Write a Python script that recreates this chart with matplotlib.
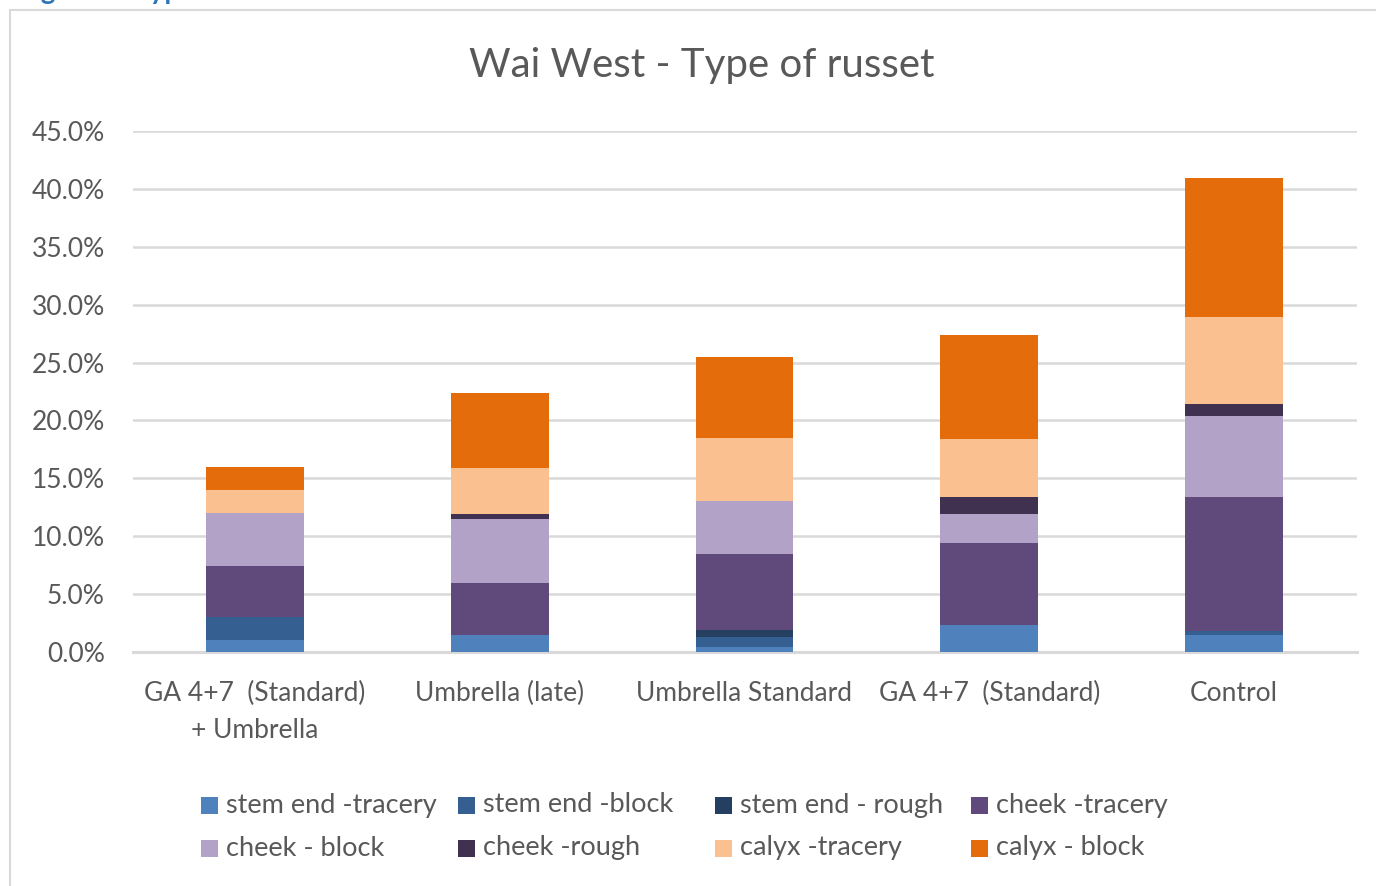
import numpy as np
import matplotlib.pyplot as plt
from matplotlib.patches import Rectangle

plt.rcParams['font.family'] = ['Lato', 'DejaVu Sans']

categories = ["GA 4+7  (Standard)\n+ Umbrella", "Umbrella (late)", "Umbrella Standard",
              "GA 4+7  (Standard)", "Control"]
series = ["stem end -tracery", "stem end -block", "stem end - rough", "cheek -tracery",
          "cheek - block", "cheek -rough", "calyx -tracery", "calyx - block"]

# values in percent, one list per series (bottom to top)
stem_tracery = [1.0, 1.5, 0.4, 2.3, 1.5]
stem_block = [2.0, 0.0, 0.9, 0.0, 0.3]
stem_rough = [0.0, 0.0, 0.6, 0.0, 0.0]
cheek_tracery = [4.4, 4.5, 6.6, 7.1, 11.6]
cheek_block = [4.6, 5.5, 4.5, 2.5, 7.0]
cheek_rough = [0.0, 0.4, 0.0, 1.5, 1.0]
calyx_tracery = [2.0, 4.0, 5.5, 5.0, 7.5]
calyx_block = [2.0, 6.5, 7.0, 9.0, 12.0]

colors = ["#4F81BD", "#355F91", "#243F60", "#604A7B",
          "#B3A2C7", "#403151", "#FAC090", "#E46C0A"]

data = [stem_tracery, stem_block, stem_rough, cheek_tracery,
        cheek_block, cheek_rough, calyx_tracery, calyx_block]

W, H = 1376, 886
fig = plt.figure(figsize=(W / 100, H / 100), dpi=100)
ax = fig.add_axes([132.5 / W, 1 - 652 / H, 1224 / W, 521 / H])

# chart frame
fig.patches.append(Rectangle((10 / W, -0.1), 1.2, 1 - 10 / H + 0.1, transform=fig.transFigure,
                             fill=False, edgecolor="#d9d9d9", linewidth=1.5))

x = np.arange(len(categories))
bottom = np.zeros(len(categories))
for vals, c, lab in zip(data, colors, series):
    v = np.array(vals) / 100
    ax.bar(x, v, 0.4, bottom=bottom, color=c, linewidth=0, label=lab, zorder=3)
    bottom += v

ax.set_xlim(-0.5, len(categories) - 0.5)
ax.set_ylim(0, 0.45)
yt = np.arange(0, 0.451, 0.05)
ax.set_yticks(yt)
ax.set_yticklabels([f"{t * 100:.1f}%" for t in yt], fontsize=19, color="#595959")
ax.set_xticks(x)
ax.set_xticklabels(categories, fontsize=19, color="#595959", linespacing=1.6, va='top')
ax.tick_params(length=0)
ax.tick_params(axis='y', pad=20)
ax.tick_params(axis='x', pad=21)

ax.grid(axis='y', color="#d9d9d9", linewidth=1.8, zorder=0)
for s in ["top", "right", "left"]:
    ax.spines[s].set_visible(False)
ax.spines["bottom"].set_color("#d9d9d9")
ax.spines["bottom"].set_linewidth(2.2)

fig.text(702 / W, 1 - 65 / H, "Wai West - Type of russet", fontsize=29, color="#595959",
         ha='center', va='center')

# caption above the chart, clipped by the top edge like in the original
fig.text(18 / W, 1 + 1 / H, "Figure 3: Type of russet", fontsize=20, color="#2E75B6",
         fontweight='bold', ha='left', va='baseline')

# legend, laid out like the original (4 columns, 2 rows)
col_x = [201, 458, 715, 971]
row_y = [805, 848]
for i, (lab, c) in enumerate(zip(series, colors)):
    cx = col_x[i % 4]
    cy = row_y[i // 4]
    fig.patches.append(Rectangle((cx / W, 1 - (cy + 8.5) / H), 17 / W, 17 / H,
                                 transform=fig.transFigure, color=c, linewidth=0))
    fig.text((cx + 25) / W, 1 - cy / H, lab, fontsize=19.5, color="#595959",
             ha='left', va='center')

fig.savefig("out.png", dpi=100)
